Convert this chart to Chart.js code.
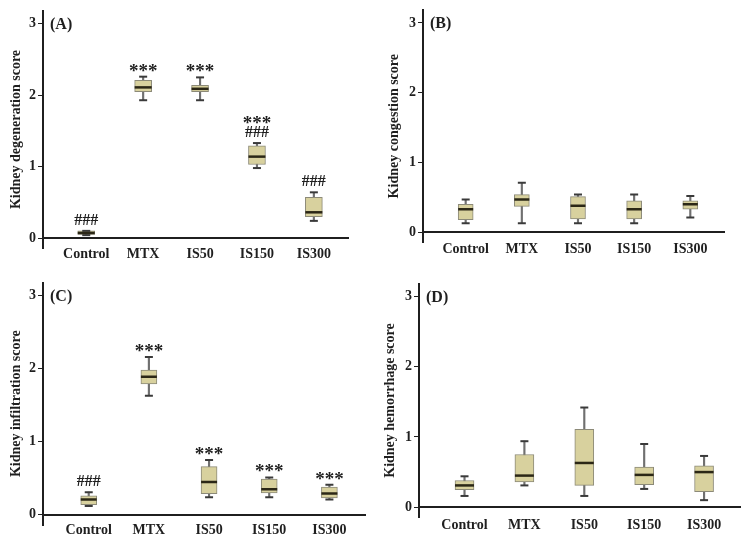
<!DOCTYPE html>
<html>
<head>
<meta charset="utf-8">
<script src="https://cdn.jsdelivr.net/npm/chart.js@4.4.1/dist/chart.umd.min.js"></script>
<style>
    body { margin: 0; background: #fff; }
    #wrap { position: relative; width: 752px; height: 545px; }
    canvas { position: absolute; }
</style>
</head>
<body>
<div id="wrap">
    <canvas id="chartA" width="376" height="272" style="left:0;top:0"></canvas>
    <canvas id="chartB" width="376" height="272" style="left:376px;top:0"></canvas>
    <canvas id="chartC" width="376" height="273" style="left:0;top:272px"></canvas>
    <canvas id="chartD" width="376" height="273" style="left:376px;top:272px"></canvas>
</div>
<script>
// groups and y ticks shared by all four panels
const groups = ['Control', 'MTX', 'IS50', 'IS150', 'IS300'];
const yTicks = [0, 1, 2, 3];

// (A) degeneration
const degMin = [0.04, 1.93, 1.93, 0.98, 0.24];
const degQ1 = [0.05, 2.05, 2.05, 1.03, 0.30];
const degMed = [0.07, 2.11, 2.09, 1.14, 0.36];
const degQ3 = [0.10, 2.21, 2.14, 1.29, 0.57];
const degMax = [0.10, 2.26, 2.25, 1.33, 0.64];
const degSig = [['###'], ['***'], ['***'], ['###', '***'], ['###']];

// (B) congestion
const conMin = [0.13, 0.13, 0.13, 0.13, 0.21];
const conQ1 = [0.18, 0.37, 0.19, 0.19, 0.33];
const conMed = [0.33, 0.47, 0.38, 0.33, 0.40];
const conQ3 = [0.40, 0.54, 0.51, 0.45, 0.45];
const conMax = [0.47, 0.71, 0.54, 0.54, 0.52];
const conSig = [[], [], [], [], []];

// (C) infiltration
const infMin = [0.12, 1.63, 0.24, 0.24, 0.21];
const infQ1 = [0.14, 1.79, 0.29, 0.30, 0.23];
const infMed = [0.21, 1.89, 0.45, 0.35, 0.29];
const infQ3 = [0.26, 1.98, 0.66, 0.49, 0.38];
const infMax = [0.31, 2.16, 0.75, 0.51, 0.41];
const infSig = [['###'], ['***'], ['***'], ['***'], ['***']];

// (D) hemorrhage
const hemMin = [0.16, 0.31, 0.16, 0.26, 0.10];
const hemQ1 = [0.25, 0.36, 0.31, 0.32, 0.22];
const hemMed = [0.31, 0.45, 0.63, 0.46, 0.50];
const hemQ3 = [0.38, 0.75, 1.11, 0.57, 0.59];
const hemMax = [0.44, 0.94, 1.42, 0.90, 0.73];
const hemSig = [[], [], [], [], []];

const serif = "'Liberation Serif', 'DejaVu Serif', serif";
const ink = '#1f1f1f';

// draws the panel letter and the *** / ### marks above each box
const textPlugin = {
    id: 'panelText',
    afterDatasetsDraw(chart, args, opts) {
        const ctx = chart.ctx;
        const x = chart.scales.x;
        const y = chart.scales.y;
        ctx.save();
        ctx.fillStyle = ink;
        ctx.font = 'bold 16px ' + serif;
        ctx.textAlign = 'left';
        ctx.textBaseline = 'middle';
        ctx.fillText(opts.letter, chart.chartArea.left + 7, y.getPixelForValue(3) + 1);

        ctx.textAlign = 'center';
        opts.sig.forEach((marks, i) => {
            let py = y.getPixelForValue(opts.max[i]) - 10;
            marks.forEach(m => {
                if (m === '***') {
                    ctx.font = 'bold 19px ' + serif;
                    ctx.fillText(m, x.getPixelForValue(i), py + 5);
                } else {
                    ctx.font = 'bold 16px ' + serif;
                    ctx.fillText(m, x.getPixelForValue(i), py);
                }
                py -= 14;
            });
        });
        ctx.restore();
    }
};

function makePanel(canvasId, p) {
    const pts = arr => arr.map((v, i) => ({ x: i, y: v }));
    const ranges = (a, b) => a.map((v, i) => ({ x: i, y: [v, b[i]] }));

    new Chart(document.getElementById(canvasId), {
        type: 'bar',
        data: {
            datasets: [{
                type: 'scatter',
                data: pts(p.med),
                pointStyle: 'line',
                radius: p.boxWidth / 2,
                borderColor: '#2b2716',
                borderWidth: 2.5,
                order: 1
            }, {
                type: 'scatter',
                data: pts(p.max).concat(pts(p.min)),
                pointStyle: 'line',
                radius: 4,
                borderColor: '#3a3a3a',
                borderWidth: 2,
                order: 1
            }, {
                data: ranges(p.q1, p.q3),
                backgroundColor: '#d8d19e',
                borderColor: '#8c8a78',
                borderWidth: 1,
                borderSkipped: false,
                barThickness: p.boxWidth,
                grouped: false,
                order: 2
            }, {
                data: ranges(p.min, p.max),
                backgroundColor: '#707070',
                borderWidth: 0,
                barThickness: 1.5,
                grouped: false,
                order: 3
            }]
        },
        options: {
            responsive: false,
            animation: false,
            devicePixelRatio: 1,
            layout: { padding: p.padding },
            plugins: {
                legend: { display: false },
                tooltip: { enabled: false },
                panelText: { letter: p.letter, sig: p.sig, max: p.max }
            },
            scales: {
                x: {
                    type: 'linear',
                    position: { y: 0 },
                    offset: false,
                    min: -0.76,
                    max: 4.6,
                    afterBuildTicks: scale => {
                        scale.ticks = groups.map((g, i) => ({ value: i }));
                    },
                    ticks: {
                        callback: v => groups[v],
                        color: ink,
                        font: { family: serif, size: 14, weight: 'bold' },
                        padding: p.xPad,
                        maxRotation: 0,
                        autoSkip: false
                    },
                    grid: { display: false, tickLength: 0 },
                    border: { color: ink, width: 2 }
                },
                y: {
                    min: -0.14,
                    max: 3.18,
                    afterBuildTicks: scale => {
                        scale.ticks = yTicks.map(v => ({ value: v }));
                    },
                    afterFit: scale => {
                        scale.width = p.yWidth;
                    },
                    ticks: {
                        color: ink,
                        font: { family: serif, size: 14, weight: 'bold' },
                        padding: 2
                    },
                    grid: {
                        drawOnChartArea: false,
                        drawTicks: true,
                        tickLength: 5,
                        color: ink
                    },
                    border: { color: ink, width: 2 },
                    title: {
                        display: true,
                        text: p.title,
                        color: ink,
                        font: { family: serif, size: 14, weight: 'bold' },
                        padding: { top: p.titlePad, bottom: 0 }
                    }
                }
            }
        },
        plugins: [textPlugin]
    });
}

makePanel('chartA', {
    letter: '(A)', title: 'Kidney degeneration score',
    min: degMin, q1: degQ1, med: degMed, q3: degQ3, max: degMax, sig: degSig,
    boxWidth: 17, yWidth: 43, titlePad: 8, xPad: 8,
    padding: { left: 0, top: 5, right: 28, bottom: 24 }
});

makePanel('chartB', {
    letter: '(B)', title: 'Kidney congestion score',
    min: conMin, q1: conQ1, med: conMed, q3: conQ3, max: conMax, sig: conSig,
    boxWidth: 15, yWidth: 47, titlePad: 10, xPad: 9,
    padding: { left: 0, top: 5, right: 28, bottom: 30 }
});

makePanel('chartC', {
    letter: '(C)', title: 'Kidney infiltration score',
    min: infMin, q1: infQ1, med: infMed, q3: infQ3, max: infMax, sig: infSig,
    boxWidth: 16, yWidth: 43, titlePad: 8, xPad: 7,
    padding: { left: 0, top: 3, right: 5, bottom: 20 }
});

makePanel('chartD', {
    letter: '(D)', title: 'Kidney hemorrhage score',
    min: hemMin, q1: hemQ1, med: hemMed, q3: hemQ3, max: hemMax, sig: hemSig,
    boxWidth: 19, yWidth: 43, titlePad: 6, xPad: 10,
    padding: { left: 0, top: 5, right: 4, bottom: 28 }
});
</script>
</body>
</html>
